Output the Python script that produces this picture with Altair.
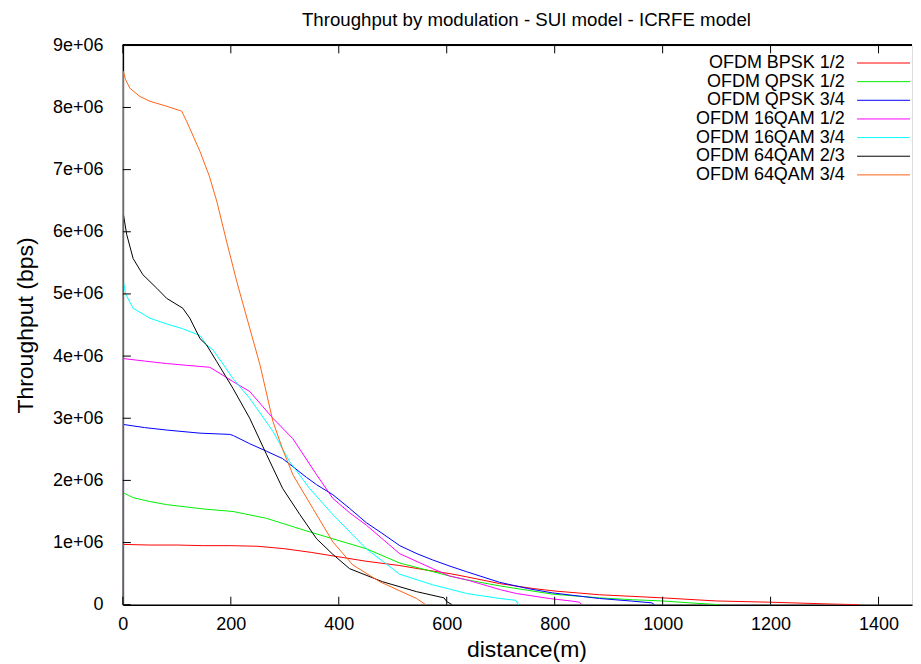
import altair as alt
import pandas as pd

FONT = "Liberation Sans"

names = ["OFDM BPSK 1/2", "OFDM QPSK 1/2", "OFDM QPSK 3/4", "OFDM 16QAM 1/2",
         "OFDM 16QAM 3/4", "OFDM 64QAM 2/3", "OFDM 64QAM 3/4"]
colors = ["#ff0000", "#00f000", "#0000ff", "#ff00ff", "#00ffff", "#000000", "#ff6314"]

# distances (m) and throughput (Mbps, x1e6 bps)
bpsk12_d = [0, 1, 50, 100, 150, 200, 250, 300, 350, 400, 450, 513, 560, 606, 636, 698, 760, 800, 883, 1000, 1100, 1200, 1315, 1365]
bpsk12_v = [0, 0.97, 0.96, 0.96, 0.95, 0.95, 0.94, 0.90, 0.84, 0.77, 0.70, 0.63, 0.56, 0.50, 0.45, 0.34, 0.26, 0.22, 0.16, 0.11, 0.06, 0.04, 0.01, 0]

qpsk12_d = [0, 1, 10, 20, 50, 81, 150, 204, 266, 328, 389, 451, 513, 606, 637, 700, 796, 883, 944, 1000, 1050, 1105]
qpsk12_v = [0, 1.80, 1.76, 1.72, 1.66, 1.61, 1.54, 1.50, 1.39, 1.22, 1.06, 0.90, 0.67, 0.46, 0.40, 0.30, 0.17, 0.11, 0.08, 0.06, 0.03, 0]

qpsk34_d = [0, 1, 40, 81, 143, 198, 205, 235, 266, 296, 340, 359, 389, 420, 451, 480, 513, 545, 574, 606, 637, 698, 750, 796, 883, 940, 980, 985]
qpsk34_v = [0, 2.90, 2.85, 2.81, 2.76, 2.74, 2.72, 2.59, 2.47, 2.35, 2.05, 1.93, 1.77, 1.55, 1.32, 1.15, 0.95, 0.82, 0.72, 0.62, 0.53, 0.36, 0.26, 0.19, 0.10, 0.06, 0.03, 0]

qam16_12_d = [0, 1, 40, 81, 120, 161, 180, 204, 235, 278, 315, 359, 389, 420, 451, 513, 574, 606, 637, 700, 729, 790, 830, 846, 850]
qam16_12_v = [0, 3.96, 3.92, 3.88, 3.85, 3.82, 3.72, 3.59, 3.43, 3.00, 2.67, 2.09, 1.71, 1.48, 1.28, 0.82, 0.58, 0.46, 0.40, 0.24, 0.18, 0.10, 0.06, 0.04, 0]

qam16_34_d = [0, 1, 5, 19, 50, 80, 111, 143, 155, 167, 204, 235, 278, 309, 346, 389, 451, 513, 574, 606, 637, 698, 728, 733]
qam16_34_v = [0, 5.20, 5.00, 4.77, 4.61, 4.52, 4.44, 4.33, 4.18, 4.10, 3.64, 3.32, 2.79, 2.30, 1.87, 1.45, 0.90, 0.49, 0.32, 0.25, 0.18, 0.10, 0.07, 0]

qam64_23_d = [0, 1, 7, 19, 37, 63, 81, 111, 124, 143, 155, 174, 204, 235, 266, 296, 328, 359, 389, 420, 481, 544, 595, 600, 610]
qam64_23_v = [0, 6.28, 5.96, 5.57, 5.31, 5.09, 4.93, 4.77, 4.61, 4.28, 4.18, 3.91, 3.48, 3.00, 2.42, 1.87, 1.45, 1.06, 0.81, 0.58, 0.37, 0.21, 0.11, 0.05, 0]

qam64_34_d = [0, 1, 5, 13, 31, 50, 81, 109, 118, 143, 160, 174, 192, 211, 235, 254, 278, 296, 315, 352, 389, 426, 476, 544, 561]
qam64_34_v = [0, 8.58, 8.45, 8.31, 8.18, 8.10, 8.02, 7.94, 7.78, 7.29, 6.90, 6.49, 5.85, 5.20, 4.45, 3.86, 2.95, 2.50, 2.09, 1.55, 1.01, 0.64, 0.37, 0.10, 0]

series = [
    (bpsk12_d, bpsk12_v), (qpsk12_d, qpsk12_v), (qpsk34_d, qpsk34_v),
    (qam16_12_d, qam16_12_v), (qam16_34_d, qam16_34_v),
    (qam64_23_d, qam64_23_v), (qam64_34_d, qam64_34_v),
]

x_ticks = [0, 200, 400, 600, 800, 1000, 1200, 1400]
y_ticks = [0, 1e6, 2e6, 3e6, 4e6, 5e6, 6e6, 7e6, 8e6, 9e6]

rows = []
for name, (ds, vs) in zip(names, series):
    for d, v in zip(ds, vs):
        rows.append({"series": name, "distance": d, "throughput": v * 1e6})
df = pd.DataFrame(rows)

legend_df = pd.DataFrame({"series": names, "row": list(range(len(names)))})
xt_df = pd.DataFrame({"v": x_ticks})
yt_df = pd.DataFrame({"v": y_ticks})

W, H = 790, 560
xs = alt.Scale(domain=[0, 1462], nice=False, zero=False)
ys = alt.Scale(domain=[0, 9e6], nice=False)
cs = alt.Scale(domain=names, range=colors)

lines = alt.Chart(df).mark_line(strokeWidth=1, clip=True).encode(
    x=alt.X("distance:Q", scale=xs, axis=alt.Axis(
        values=x_ticks, format="d", ticks=False, grid=False, labelFontSize=18, labelFont=FONT,
        labelPadding=11, labelColor="black", labelFlush=False,
        title="distance(m)", titleFontSize=23, titleFont=FONT, titleFontWeight="normal",
        titleColor="black", titlePadding=5, titleX=404, titleAlign="center",
        domainColor="black", domainWidth=1.5)),
    y=alt.Y("throughput:Q", scale=ys, axis=alt.Axis(
        values=y_ticks, ticks=False, grid=False, labelFontSize=18, labelFont=FONT,
        labelPadding=20, labelColor="black",
        labelExpr="datum.value == 0 ? '0' : format(datum.value / 1000000, 'd') + 'e+06'",
        title="Throughput (bps)", titleFontSize=23, titleFont=FONT, titleFontWeight="normal",
        titleColor="black", titlePadding=15,
        domainColor="black", domainWidth=1.5)),
    color=alt.Color("series:N", scale=cs, legend=None),
)

top_border = alt.Chart(xt_df).mark_rule(color="black", strokeWidth=1.5).encode(
    x=alt.value(0), x2=alt.value(W), y=alt.value(0))

xt_bottom = alt.Chart(xt_df).mark_rule(color="black", strokeWidth=1).encode(
    x=alt.X("v:Q", scale=xs), y=alt.value(H), y2=alt.value(H - 8))
xt_top = alt.Chart(xt_df).mark_rule(color="black", strokeWidth=1).encode(
    x=alt.X("v:Q", scale=xs), y=alt.value(0), y2=alt.value(8))
yt_left = alt.Chart(yt_df).mark_rule(color="black", strokeWidth=1).encode(
    y=alt.Y("v:Q", scale=ys, axis=None), x=alt.value(0), x2=alt.value(8))

ls = alt.Scale(domain=[0, 6], range=[17.7, 129.7])
leg_text = alt.Chart(legend_df).mark_text(
    align="right", baseline="middle", fontSize=18, font=FONT, color="black").encode(
    x=alt.value(722.7), y=alt.Y("row:Q", scale=ls, axis=None), text="series:N")
leg_line = alt.Chart(legend_df).mark_rule(strokeWidth=1).encode(
    x=alt.value(735), x2=alt.value(788), y=alt.Y("row:Q", scale=ls, axis=None),
    color=alt.Color("series:N", scale=cs, legend=None))

chart = alt.layer(
    lines, top_border, xt_bottom, xt_top, yt_left, leg_text, leg_line
).resolve_scale(y="independent").properties(
    width=W, height=H,
    title=alt.TitleParams(
        text="Throughput by modulation - SUI model - ICRFE model",
        fontSize=18.7, font=FONT, fontWeight="normal", color="black",
        anchor="middle", frame="group", dx=9, offset=7),
    padding={"left": 6, "top": 2, "right": 0, "bottom": 0},
).configure_view(stroke=None).configure(background="white")

chart.save("out.html", embed_options={"renderer": "svg", "actions": False})
